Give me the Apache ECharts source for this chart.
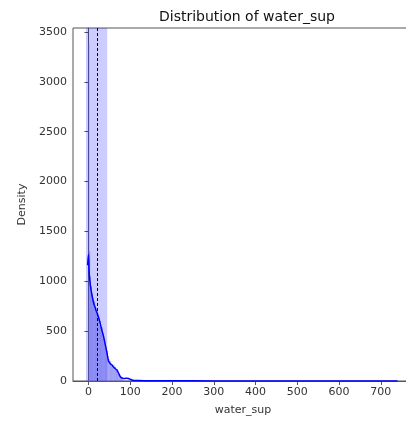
<!DOCTYPE html>
<html>
<head>
<meta charset="utf-8">
<script src="https://cdn.jsdelivr.net/npm/echarts@6/dist/echarts.min.js"></script>
<style>
html,body{margin:0;padding:0;background:#fff;}
#c{width:406px;height:423px;}
</style>
</head>
<body>
<div id="c"></div>
<script>
// Histogram bins (left edge, width 2) and density heights
const binStart = [0,2,4,6,8,10,12,14,16,18,20,22,24,26,28,30,32,34,36,38,40,42,44,46,48,50,52,54,56,58,60,62,64,66,68,70,72,74,76,78,80,82,84,86,88,90,92,94,96,98,100,110,130,160,200,300,400,500,600,700];
const binHeight = [3380,1300,1050,950,880,820,760,800,720,700,680,620,650,560,600,520,540,470,430,420,380,330,300,250,220,180,200,150,170,130,160,120,140,100,120,80,60,40,30,20,15,10,8,5,10,8,5,12,10,6,4,3,2,2,1,1,1,1,1,1];
const binWidth = 2;

// KDE curve
const kdeX = [-2,0,2,4,6,8,10,12,14,16,18,20,24,28,32,36,40,44,48,52,56,60,64,68,72,76,80,84,88,92,96,100,104,110,120,140,160,200,300,400,500,600,700,740];
const kdeY = [1160,1270,1060,980,920,870,830,790,760,740,710,690,640,580,510,450,370,290,200,175,160,140,125,110,80,45,30,25,26,28,25,18,10,6,4,3,2,2,1,1,1,1,1,1];

// Reference band and mean line
const bandLow = -6;
const bandHigh = 45;
const meanValue = 21;

const xTicks = [0,100,200,300,400,500,600,700];
const yTicks = [0,500,1000,1500,2000,2500,3000,3500];

const chart = echarts.init(document.getElementById('c'));
const font = 'DejaVu Sans';
chart.setOption({
  animation: false,
  title: {
    text: 'Distribution of water_sup',
    left: 242, textAlign: 'center', top: 5,
    textStyle: {fontFamily: font, fontSize: 14, fontWeight: 'normal', color: '#111'}
  },
  grid: {left: 73, right: -7, top: 28, bottom: 42, show: true, borderColor: '#555', borderWidth: 1,
    backgroundColor: 'transparent', outerBoundsMode: 'none', containLabel: false},
  xAxis: {
    type: 'value', min: -37, max: 777,
    name: 'water_sup', nameLocation: 'middle', nameGap: 24,
    nameTextStyle: {fontFamily: font, fontSize: 11, color: '#333'},
    axisLine: {show: true, lineStyle: {color: '#555'}},
    axisTick: {show: true, length: 4, customValues: xTicks, lineStyle: {color: '#555'}},
    axisLabel: {customValues: xTicks, fontFamily: font, fontSize: 11, color: '#333', margin: 6,
      formatter: v => String(v)},
    splitLine: {show: false}
  },
  yAxis: {
    type: 'value', min: 0, max: 3540,
    name: 'Density', nameLocation: 'middle', nameGap: 42,
    nameTextStyle: {fontFamily: font, fontSize: 11, color: '#333'},
    axisLine: {show: true, lineStyle: {color: '#555'}},
    axisTick: {show: true, length: 4, customValues: yTicks, lineStyle: {color: '#555'}},
    axisLabel: {customValues: yTicks, fontFamily: font, fontSize: 11, color: '#333', margin: 6,
      formatter: v => String(v)},
    splitLine: {show: false}
  },
  series: [
    {
      type: 'line', data: [], silent: true,
      markArea: {silent: true, itemStyle: {color: 'rgba(0,0,255,0.2)'}, data: [[{xAxis: bandLow}, {xAxis: bandHigh}]]},
      z: 1
    },
    {
      type: 'custom', z: 2,
      data: binStart.map((s, i) => [s, s + binWidth, binHeight[i]]),
      renderItem: function (params, api) {
        const p0 = api.coord([api.value(0), api.value(2)]);
        const p1 = api.coord([api.value(1), 0]);
        return {
          type: 'rect',
          shape: {x: p0[0], y: p0[1], width: Math.max(p1[0] - p0[0], 0.6), height: p1[1] - p0[1]},
          style: {fill: 'rgba(40,40,230,0.55)', stroke: 'rgba(255,255,255,0.3)', lineWidth: 0.25}
        };
      }
    },
    {
      type: 'line', z: 3, symbol: 'none', smooth: 0.3,
      data: kdeX.map((x, i) => [x, kdeY[i]]),
      lineStyle: {color: '#0000ff', width: 1.5}
    },
    {
      type: 'line', data: [], z: 4,
      markLine: {silent: true, symbol: 'none', label: {show: false},
        lineStyle: {color: '#000', type: [3, 2], width: 1},
        data: [{xAxis: meanValue}]}
    }
  ]
});
</script>
</body>
</html>
